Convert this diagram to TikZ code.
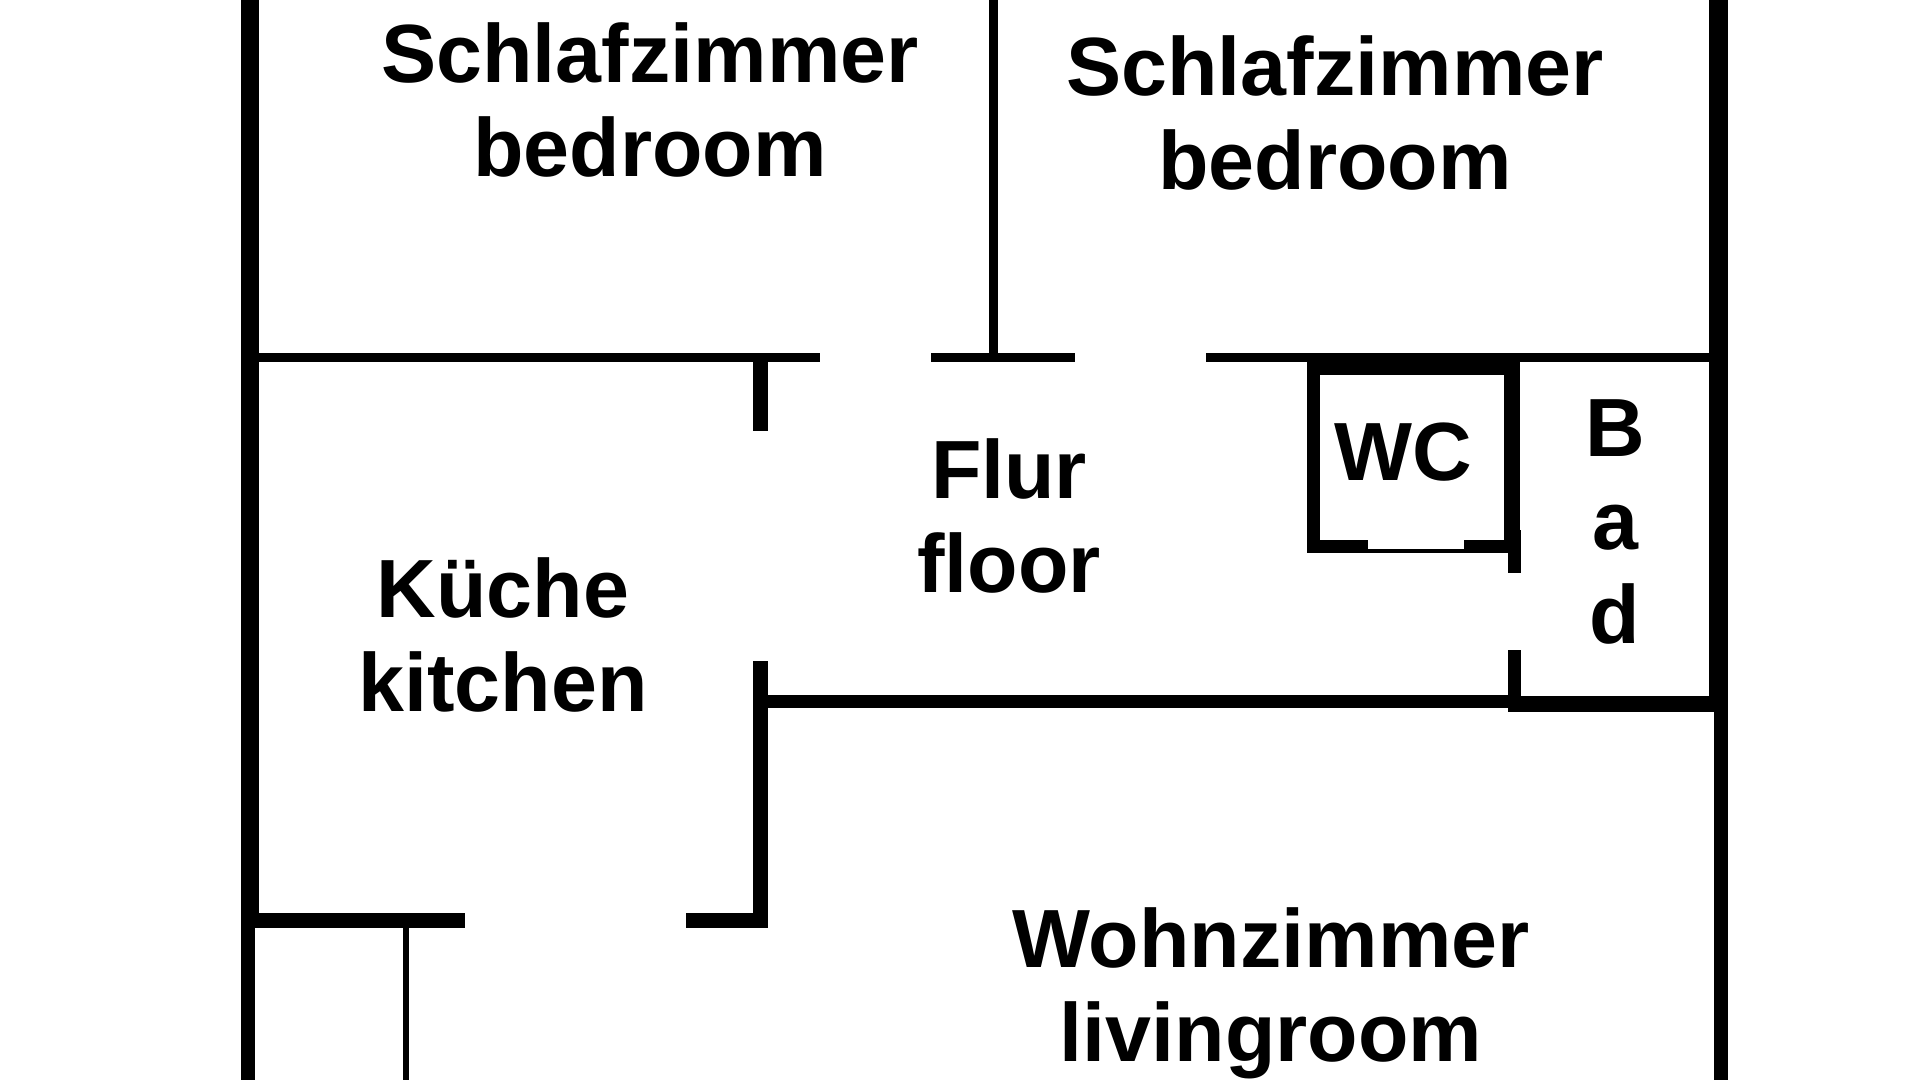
\documentclass[tikz,border=0pt]{standalone}
\usepackage{fontspec}
\setmainfont{Liberation Sans}
\tikzset{
	wall/.style={fill=black},
	room/.style={font=\fontsize{23.5}{26.7}\selectfont\bfseries, align=center, inner sep=0pt},
}

\begin{document}
\begin{tikzpicture}
	%%%%% START %%%%%
	\useasboundingbox (0, 0) rectangle (19.2, 10.8);
	
	% outer walls
	\path[wall] (2.41, 10.8) rectangle (2.59, 1.6);
	\path[wall] (2.41, 1.62) rectangle (2.55, 0);
	\path[wall] (17.09, 10.8) rectangle (17.28, 3.68);
	\path[wall] (17.14, 3.68) rectangle (17.28, 0);
	
	% bedrooms
	\path[wall] (2.5, 7.27) rectangle (8.2, 7.18);
	\path[wall] (9.31, 7.27) rectangle (10.75, 7.18);
	\path[wall] (12.06, 7.27) rectangle (17.1, 7.18);
	\path[wall] (9.89, 10.8) rectangle (9.98, 7.2);
	
	% kitchen
	\path[wall] (7.53, 7.2) rectangle (7.68, 6.49);
	\path[wall] (7.53, 4.19) rectangle (7.68, 1.52);
	\path[wall] (2.45, 1.67) rectangle (4.65, 1.52);
	\path[wall] (6.86, 1.67) rectangle (7.68, 1.52);
	\path[wall] (4.03, 1.55) rectangle (4.09, 0);
	
	% floor
	\path[wall] (7.6, 3.85) rectangle (15.1, 3.72);
	\path[wall] (15.08, 3.84) rectangle (17.2, 3.68);
	
	% WC
	\path[wall] (13.07, 7.27) rectangle (15.2, 7.05);
	\path[wall] (13.07, 7.2) rectangle (13.2, 5.27);
	\path[wall] (15.04, 7.2) rectangle (15.2, 5.4);
	\path[wall] (15.08, 5.5) rectangle (15.21, 5.07);
	\path[wall] (13.07, 5.4) rectangle (13.68, 5.27);
	\path[wall] (13.68, 5.31) rectangle (14.64, 5.27);
	\path[wall] (14.64, 5.4) rectangle (15.1, 5.27);
	
	% bath
	\path[wall] (15.08, 4.3) rectangle (15.21, 3.7);
	
	\node[room] (bedroomleft) at (6.5, 9.8) {Schlafzimmer\\bedroom};
	\node[room] (bedroomright) at (13.35, 9.67) {Schlafzimmer\\bedroom};
	\node[room] (hall) at (10.09, 5.64) {Flur\\floor};
	\node[room] (kitchen) at (5.03, 4.45) {K\"uche\\kitchen};
	\node[room] (toilet) at (14.03, 6.28) {WC};
	\node[room] (bath) at (16.15, 5.58) {B\\a\\d};
	\node[room] (living) at (12.71, 0.87) {Wohnzimmer\\livingroom};
	
	%%%%% END %%%%%
\end{tikzpicture}
\end{document}
